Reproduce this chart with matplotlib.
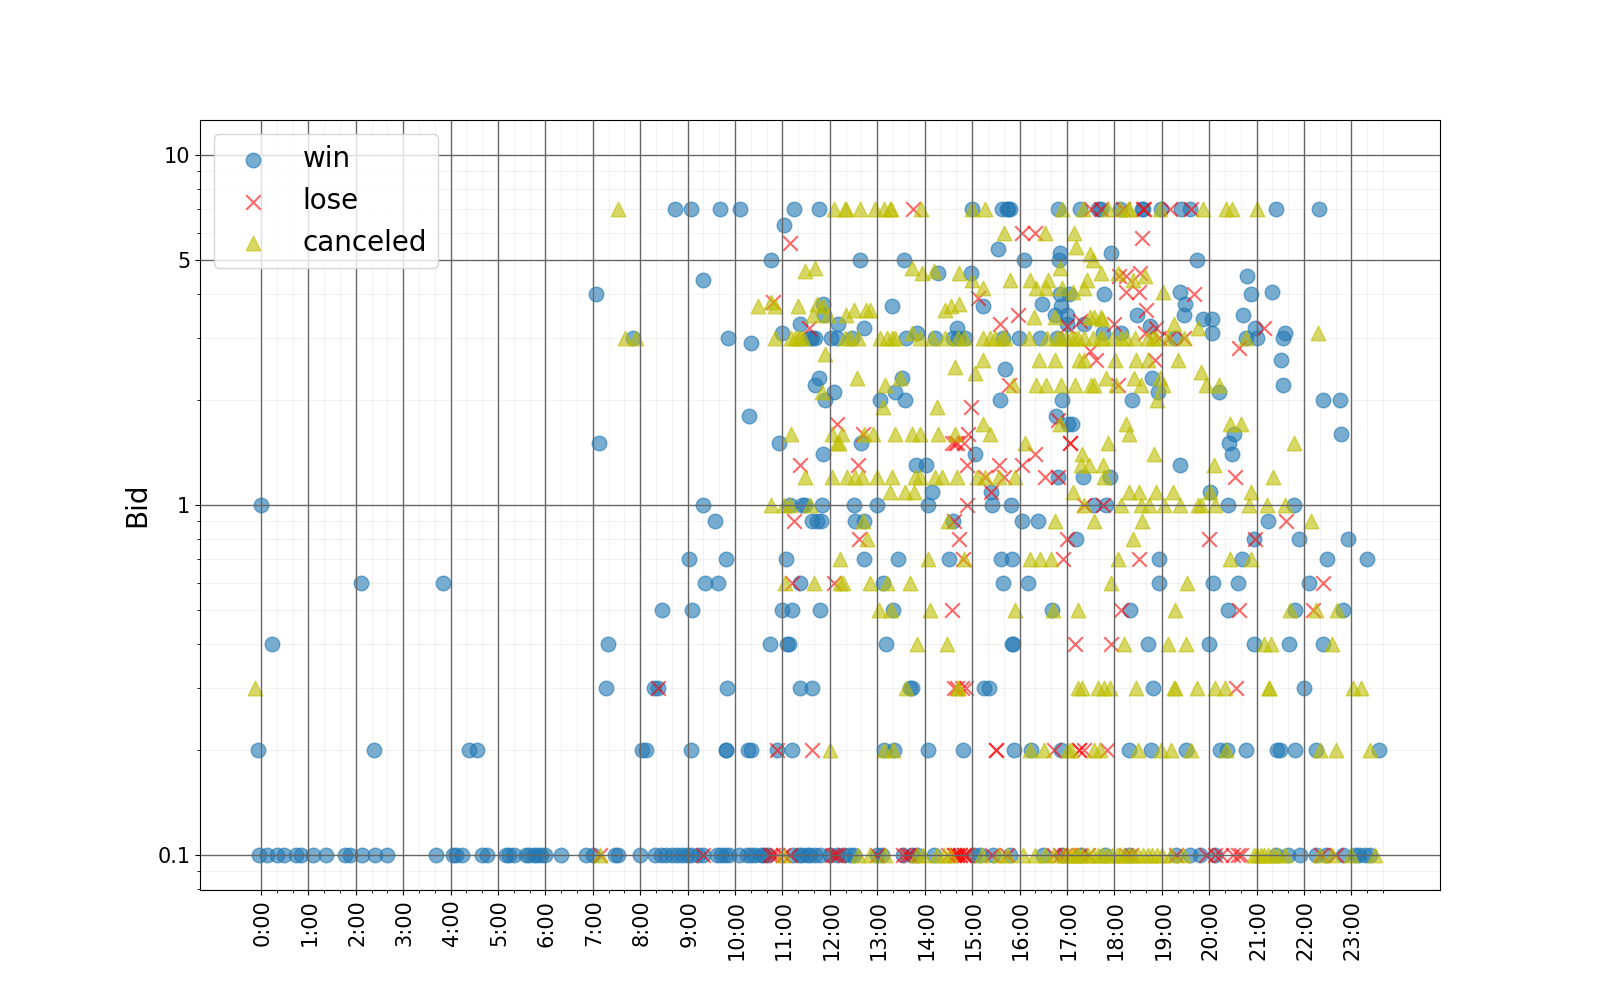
import numpy as np
import matplotlib
matplotlib.use('Agg')
import matplotlib.pyplot as plt
from matplotlib.ticker import FixedLocator, NullFormatter
from matplotlib.transforms import ScaledTranslation

# (bid, hours of the day)
win_rows = [
    (7.0, [8.73, 9.07, 9.68, 10.10, 11.25, 11.76, 14.99, 15.63, 15.73, 15.76, 15.80, 16.82, 17.27, 17.65, 17.72, 18.11, 18.58, 18.60, 18.99, 19.41, 19.60, 21.40, 22.32]),
    (6.3, [11.04]),
    (5.4, [15.54]),
    (5.25, [16.85, 17.94]),
    (5.0, [10.76, 12.64, 13.57, 16.1, 16.84, 19.74]),
    (4.6, [14.29, 14.97]),
    (4.5, [20.8]),
    (4.4, [9.33]),
    (4.05, [19.39, 21.32]),
    (4.0, [7.06, 16.86, 17.05, 17.78, 20.89]),
    (3.75, [11.85, 16.47, 19.5]),
    (3.7, [13.32, 15.24, 16.88]),
    (3.5, [11.88, 16.75, 17.0, 18.48, 19.46, 20.71]),
    (3.4, [19.87, 20.05]),
    (3.3, [11.36, 12.18, 17.0, 17.37]),
    (3.25, [18.76]),
    (3.2, [12.73, 14.68, 20.96]),
    (3.1, [10.99, 13.83, 17.76, 18.15, 20.05, 21.59]),
    (3.0, [7.85, 9.86, 11.58, 11.62, 11.69, 12.02, 12.16, 12.46, 13.61, 14.22, 14.59, 14.71, 14.85, 15.66, 15.98, 16.44, 16.79, 19.27, 20.77, 21.0, 21.56]),
    (2.9, [10.33]),
    (2.6, [21.52]),
    (2.45, [15.70]),
    (2.3, [11.76, 13.53, 18.8]),
    (2.2, [11.68, 21.56]),
    (2.1, [12.09, 13.38, 18.92, 20.21]),
    (2.0, [11.9, 13.06, 13.59, 15.59, 16.89, 18.37, 22.4, 22.77]),
    (1.8, [10.29, 16.77]),
    (1.7, [17.03, 17.1]),
    (1.6, [20.52, 22.79]),
    (1.5, [7.12, 10.93, 12.66, 20.42]),
    (1.4, [11.86, 15.06, 20.48]),
    (1.3, [13.81, 14.03, 19.39]),
    (1.2, [16.81, 17.33, 17.9]),
    (1.09, [14.16, 15.4, 20.02]),
    (1.0, [0.0, 9.33, 11.16, 11.41, 11.48, 11.83, 12.5, 13.0, 14.06, 15.42, 15.82, 17.58, 17.83, 20.4, 21.79]),
    (0.9, [9.57, 11.62, 11.72, 11.81, 12.53, 12.72, 14.59, 16.05, 16.38, 21.24]),
    (0.8, [17.2, 20.95, 21.9, 22.93]),
    (0.7, [9.02, 9.8, 11.07, 12.71, 13.43, 14.52, 15.61, 15.84, 18.94, 20.69, 22.49, 23.33]),
    (0.6, [2.1, 3.83, 9.36, 9.64, 11.37, 13.11, 15.66, 16.17, 18.94, 20.09, 20.61, 22.11]),
    (0.5, [8.46, 9.1, 10.99, 11.21, 11.8, 13.34, 16.68, 18.34, 20.4, 21.82, 22.82]),
    (0.4, [0.24, 7.33, 10.74, 11.09, 11.13, 13.19, 15.84, 15.87, 18.71, 20.0, 20.94, 21.68, 22.4]),
    (0.3, [7.27, 8.29, 8.37, 9.83, 11.37, 11.63, 13.68, 13.73, 15.25, 15.35, 18.81, 22.01]),
    (0.2, [-0.07, 2.38, 4.39, 4.55, 8.04, 8.12, 9.08, 9.8, 9.81, 10.27, 10.33, 10.88, 11.2, 13.15, 13.36, 14.08, 14.8, 15.89, 16.25, 16.88, 18.32, 18.77, 19.52, 20.22, 20.38, 20.77, 21.43, 21.5, 21.82, 22.26, 23.58]),
    (0.1, [-0.05, 0.12, 0.34, 0.49, 0.74, 0.84, 1.09, 1.37, 1.78, 1.87, 2.14, 2.41, 2.66, 3.7, 4.06, 4.12, 4.23, 4.66, 4.76, 5.16, 5.23, 5.33, 5.58, 5.66, 5.75, 5.83, 5.91, 6.0, 6.33, 6.85, 7.0, 7.46, 7.54, 8.0, 8.32, 8.43, 8.54, 8.67, 8.77, 8.87, 8.98, 9.08, 9.21, 9.33, 9.62, 9.71, 9.79, 9.87, 10.08, 10.25, 10.33, 10.42, 10.54, 10.6, 10.7, 11.23, 11.34, 11.41, 11.51, 11.58, 11.69, 11.79, 12.0, 12.15, 12.29, 12.43, 12.5, 12.99, 13.1, 13.55, 13.73, 13.83, 14.19, 15.03, 15.17, 15.45, 15.8, 16.5, 16.9, 17.3, 17.8, 18.3, 19.31, 19.59, 19.8, 20.12, 21.42, 21.67, 21.91, 22.26, 22.47, 22.82, 23.07, 23.17, 23.28, 23.39]),
]

lose_rows = [
    (7.0, [13.76, 17.51, 17.72, 18.18, 18.60, 18.62, 19.17, 19.62]),
    (6.0, [16.06, 16.33]),
    (5.8, [18.58]),
    (5.6, [11.15]),
    (4.6, [18.55]),
    (4.5, [18.1, 18.25]),
    (4.06, [18.25, 18.53]),
    (4.0, [19.69]),
    (3.9, [15.13]),
    (3.8, [10.81]),
    (3.6, [18.67]),
    (3.5, [15.96]),
    (3.35, [17.28]),
    (3.3, [15.58, 18.0]),
    (3.25, [17.0]),
    (3.2, [11.57, 18.88, 21.15]),
    (3.1, [18.64]),
    (3.0, [18.95, 19.15, 19.46]),
    (2.8, [20.64]),
    (2.75, [17.49]),
    (2.6, [17.62, 18.85]),
    (2.2, [15.77, 18.08]),
    (1.9, [14.98]),
    (1.75, [16.81]),
    (1.7, [12.15]),
    (1.6, [12.69, 14.92]),
    (1.5, [14.57, 14.63, 14.68, 14.83, 17.06, 17.07]),
    (1.4, [16.33]),
    (1.3, [11.37, 12.6, 14.9, 15.56, 16.05]),
    (1.2, [15.28, 15.68, 16.54, 16.81, 20.54]),
    (1.09, [15.4]),
    (1.0, [14.9, 17.37, 17.76]),
    (0.9, [11.25, 14.61, 21.63]),
    (0.8, [12.62, 14.73, 17.01, 20.0, 20.96]),
    (0.7, [14.8, 16.91, 18.53]),
    (0.6, [11.2, 12.09, 22.4]),
    (0.5, [14.57, 18.15, 20.64, 22.19]),
    (0.4, [17.18, 17.94]),
    (0.3, [8.37, 14.61, 14.69, 14.78, 14.87, 20.56]),
    (0.2, [10.88, 11.62, 15.51, 15.51, 16.72, 17.25, 17.25, 17.37, 17.84]),
    (0.1, [7.16, 9.32, 10.74, 10.81, 10.88, 11.02, 11.16, 12.04, 12.11, 12.18, 12.99, 13.55, 13.62, 13.69, 14.5, 14.61, 14.61, 14.68, 14.68, 14.75, 14.75, 14.82, 14.82, 14.89, 15.42, 15.73, 16.72, 16.86, 16.96, 17.07, 17.27, 17.44, 18.25, 18.36, 19.31, 19.94, 20.12, 20.26, 20.5, 20.61, 20.68, 22.37, 22.68]),
]

canceled_rows = [
    (7.0, [7.53, 12.08, 12.32, 12.33, 12.63, 12.96, 13.14, 13.27, 13.28, 13.92, 14.99, 15.28, 16.89, 17.34, 17.87, 18.11, 18.28, 18.32, 18.96, 19.88, 20.35, 20.48, 21.0]),
    (6.0, [15.68, 16.54, 17.14]),
    (5.45, [17.2]),
    (5.2, [17.49]),
    (5.0, [17.56]),
    (4.76, [11.69, 13.73, 16.85]),
    (4.66, [11.47, 14.2]),
    (4.6, [13.94, 14.73, 17.72, 18.08]),
    (4.5, [18.64]),
    (4.4, [15.0, 15.79, 16.22, 16.6, 17.42, 18.39]),
    (4.17, [15.22, 16.35, 16.56, 16.9, 17.37]),
    (4.06, [17.13, 19.03]),
    (3.8, [10.75]),
    (3.75, [11.72, 14.73]),
    (3.7, [10.48, 10.84, 11.33, 11.86, 14.55]),
    (3.6, [12.5, 12.77, 12.84, 14.42]),
    (3.5, [11.65, 11.97, 12.34]),
    (3.45, [16.3, 16.75, 17.48, 17.58, 17.72]),
    (3.4, [17.75]),
    (3.3, [19.25]),
    (3.2, [19.76]),
    (3.1, [13.73, 22.3]),
    (3.0, [7.67, 7.9, 10.84, 11.17, 11.27, 11.33, 11.37, 11.44, 12.32, 12.43, 12.6, 13.06, 13.2, 13.31, 13.38, 13.9, 14.15, 14.43, 14.71, 14.82, 15.23, 15.38, 15.49, 15.63, 15.7, 16.19, 16.58, 16.79, 16.88, 16.98, 17.08, 17.17, 17.23, 17.37, 17.55, 17.69, 17.76, 17.97, 18.15, 18.25, 18.43, 18.71, 18.82, 18.88, 19.13, 19.48, 20.77]),
    (2.7, [11.89]),
    (2.6, [15.22, 16.42, 16.74, 17.25, 17.35, 18.01, 18.45, 18.71, 19.34]),
    (2.48, [14.64]),
    (2.4, [19.83]),
    (2.38, [15.06]),
    (2.3, [12.58, 13.48, 17.83, 18.41, 18.96]),
    (2.2, [13.17, 15.87, 16.35, 16.56, 16.87, 17.17, 17.51, 17.58, 18.04, 18.57, 19.03, 19.93, 20.21]),
    (2.1, [11.83]),
    (2.0, [18.9]),
    (1.9, [13.13, 14.27]),
    (1.7, [15.23, 16.86, 18.24, 20.45, 20.68]),
    (1.6, [11.18, 12.04, 12.25, 12.71, 12.92, 13.38, 13.73, 13.9, 14.29, 14.63, 15.37, 18.31]),
    (1.5, [12.15, 12.2, 16.12, 17.87, 21.78]),
    (1.4, [17.32, 18.83]),
    (1.3, [17.3, 17.46, 17.76, 20.1]),
    (1.2, [11.48, 12.04, 12.37, 12.53, 12.67, 12.99, 13.31, 13.8, 13.9, 14.22, 14.36, 14.68, 15.1, 15.28, 15.56, 15.91, 17.78, 21.35]),
    (1.09, [13.26, 13.59, 13.78, 17.13, 18.32, 18.53, 18.88, 19.24, 20.02, 20.89]),
    (1.0, [10.75, 11.04, 11.16, 11.58, 17.37, 18.15, 18.57, 18.74, 19.04, 19.39, 19.76, 19.83, 20.12, 20.84, 21.22, 21.59]),
    (0.9, [12.69, 14.49, 16.74, 17.57, 18.58, 22.14]),
    (0.8, [12.78, 18.39]),
    (0.7, [12.22, 14.08, 14.83, 16.22, 16.44, 16.66, 18.08, 20.45, 20.89]),
    (0.6, [11.05, 11.67, 12.22, 12.27, 12.85, 13.2, 13.69, 17.94, 19.53]),
    (0.5, [13.03, 13.29, 14.12, 15.91, 16.7, 17.23, 19.29, 21.7, 22.25, 22.7]),
    (0.4, [13.83, 14.48, 18.2, 19.13, 19.52, 21.15, 21.31, 22.59]),
    (0.3, [-0.12, 13.6, 14.7, 14.71, 17.24, 17.32, 17.65, 17.78, 17.9, 18.45, 19.26, 19.27, 19.74, 20.13, 20.33, 21.26, 21.27, 23.03, 23.21]),
    (0.2, [12.01, 13.15, 13.34, 16.22, 16.51, 17.03, 17.09, 17.58, 17.69, 18.5, 18.99, 19.2, 19.62, 20.36, 22.33, 22.68, 23.39]),
    (0.1, [7.16, 11.02, 12.6, 12.85, 13.17, 13.83, 13.97, 14.26, 14.4, 14.54, 15.21, 15.56, 15.73, 16.08, 16.33, 16.54, 16.72, 16.93, 17.03, 17.1, 17.17, 17.24, 17.32, 17.45, 17.55, 17.65, 17.75, 17.85, 17.95, 18.05, 18.13, 18.2, 18.3, 18.4, 18.5, 18.6, 18.7, 18.8, 18.9, 19.0, 19.2, 19.45, 20.95, 21.02, 21.1, 21.15, 21.25, 21.35, 21.45, 21.6, 22.33, 22.6, 23.0, 23.5]),
]

hour_labels = ['%d:00' % h for h in range(24)]


def expand(rows):
    hours = []
    bids = []
    for bid, row in rows:
        hours += row
        bids += [bid] * len(row)
    return hours, bids


fig = plt.figure(figsize=(16, 10), dpi=100)
ax = fig.add_subplot()

x, y = expand(win_rows)
ax.scatter(x, y, s=110, marker='o', c='tab:blue', alpha=0.6, label='win')
x, y = expand(lose_rows)
ax.scatter(x, y, s=110, marker='x', c='r', alpha=0.6, label='lose')
x, y = expand(canceled_rows)
ax.scatter(x, y, s=110, marker='^', c='y', alpha=0.6, label='canceled')

ax.set_yscale('log')
ax.set_xlim(-1.287, 24.87)
ax.set_ylim(10 ** -1.1, 10 ** 1.1)

ax.set_xticks(range(24))
ax.set_xticklabels(hour_labels, rotation=90, fontsize=15)
ax.xaxis.set_minor_locator(FixedLocator(np.arange(0, 24, 1 / 3)))

# nudge the hour labels to sit where they do in the original
nudge = ScaledTranslation(1.5 / 100, 0, fig.dpi_scale_trans)
for label in ax.get_xticklabels():
    label.set_transform(label.get_transform() + nudge)

ax.set_yticks([0.1, 1, 5, 10])
ax.set_yticklabels(['0.1', '1', '5', '10'], fontsize=15)
ax.yaxis.set_minor_formatter(NullFormatter())

ax.grid(which='major', color='#666666', linewidth=1)
ax.grid(which='minor', color='#999999', linewidth=0.8, alpha=0.12)

ax.set_ylabel('Bid', fontsize=20)
ax.legend(loc='upper left', fontsize=20)

fig.savefig('out.png')
